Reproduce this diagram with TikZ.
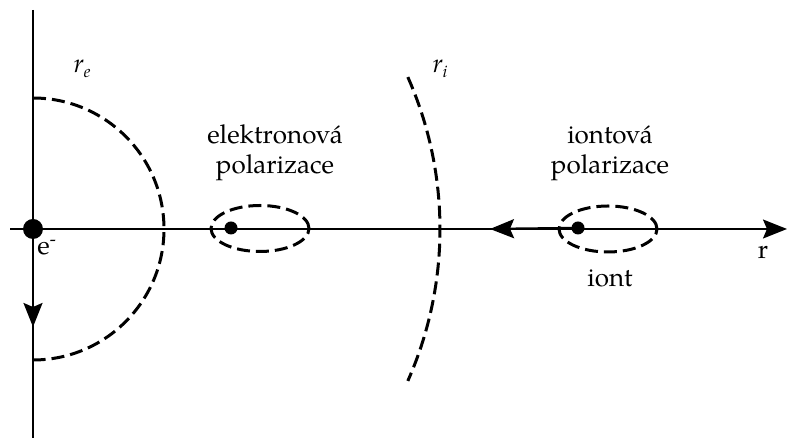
\documentclass[tikz,border=0pt]{standalone}
\usepackage{fontspec}
\setmainfont{texgyrepagella}[Extension=.otf, UprightFont=*-regular, ItalicFont=*-italic, BoldFont=*-bold]
\usetikzlibrary{arrows.meta}
\begin{document}
\begin{tikzpicture}[x=1pt,y=1pt,
  axis/.style={line width=1.8pt},
  dsh/.style={line width=3pt, dash pattern=on 13pt off 6pt},
  bigdot/.style={circle, fill=black, inner sep=0pt, minimum size=20pt},
  smalldot/.style={circle, fill=black, inner sep=0pt, minimum size=13pt},
  tip/.style={-{Stealth[length=24pt,width=19pt,inset=4pt]}},
  lbl/.style={font=\fontsize{26}{30}\selectfont, inner sep=0pt, align=center}]
\useasboundingbox (0,0) rectangle (788,438);
% axes
\coordinate (xl) at (10,209);
\coordinate (xr) at (787,209);
\coordinate (yt) at (33,428);
\coordinate (yb) at (33,0);
\draw[axis] (yt) -- (yb);
\draw[axis, tip] (xl) -- (xr);
% origin electron
\node[bigdot] (O) at (33,209) {};
\coordinate (down) at (33,111);
\draw[axis, line width=2.2pt, tip] (O.center) -- (down);
% r_e semicircle
\draw[dsh] (33,340) arc[start angle=90, end angle=-90, radius=131];
% r_i arc
\draw[dsh] ([shift={(65,209)}]23.9:375) arc[start angle=23.9, end angle=-23.9, radius=375];
% electronic polarization
\node[smalldot] (a) at (231,210) {};
\draw[dsh] (260,209.5) ellipse[x radius=49, y radius=23];
% ionic polarization
\node[smalldot] (b) at (578,210) {};
\draw[dsh] (608,209) ellipse[x radius=49, y radius=23];
\coordinate (bl) at (490,209);
\draw[line width=2.4pt, tip] (b.center) -- (bl);
% labels
\node[lbl] (re) at (82,369) {\textit{r}\raisebox{-5pt}{\fontsize{17}{20}\selectfont\textit{e}}};
\node[lbl] (ri) at (440,369) {\textit{r}\raisebox{-5pt}{\fontsize{17}{20}\selectfont\textit{i}}};
\node[lbl] (e) at (47,190) {e\textsuperscript{-}};
\node[lbl] (ep) at (275,285) {elektronová\\polarizace};
\node[lbl] (ip) at (610,285) {iontová\\polarizace};
\node[lbl] (iont) at (610,160) {iont};
\node[lbl] (r) at (763,186) {r};
\end{tikzpicture}
\end{document}
